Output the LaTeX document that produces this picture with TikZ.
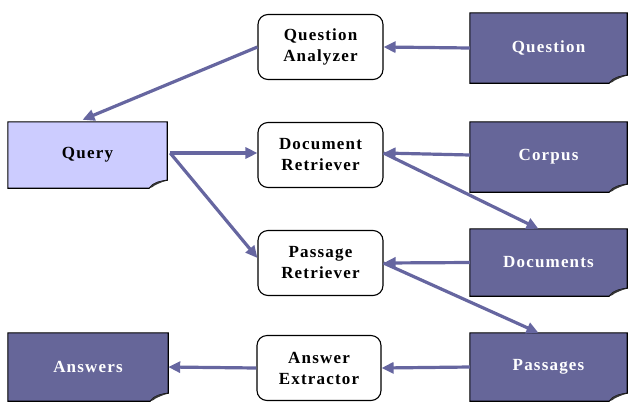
\documentclass[tikz,border=0pt]{standalone}
\usepackage{fontspec}
\setmainfont{Liberation Serif}[LetterSpace=7]
\usetikzlibrary{arrows.meta}
\definecolor{darkdoc}{RGB}{102,102,153}
\definecolor{lightdoc}{RGB}{204,204,255}
\definecolor{arrowc}{RGB}{102,102,160}
\newcommand{\docshape}[2]{%
  \filldraw[fill=#2,draw=black,line width=1.1pt]
    (#1.north west) -- (#1.north east) -- ([yshift=8pt]#1.south east)
    .. controls ([xshift=-6pt,yshift=7pt]#1.south east) and ([xshift=-14pt,yshift=6pt]#1.south east) .. ([xshift=-18pt]#1.south east)
    -- (#1.south west) -- cycle;
  \fill[black!80]
    ([xshift=-18pt]#1.south east)
    .. controls ([xshift=-15pt,yshift=6pt]#1.south east) and ([xshift=-8pt,yshift=7pt]#1.south east) .. ([yshift=8pt]#1.south east)
    .. controls ([xshift=-8pt,yshift=5pt]#1.south east) and ([xshift=-13pt,yshift=3pt]#1.south east) .. ([xshift=-15pt,yshift=1pt]#1.south east)
    -- cycle;
}
\begin{document}
\begin{tikzpicture}[x=1pt,y=-1pt,
  lbl/.style={font=\fontsize{17}{21}\selectfont\bfseries},
  proc/.style={lbl,draw=black,line width=1.1pt,rounded corners=10pt,fill=white,
    minimum width=125pt,minimum height=65pt,align=center,inner sep=0pt},
  docnode/.style={lbl,inner sep=0pt,align=center},
  conn/.style={draw=arrowc,line width=3.2pt,-{Triangle[length=12pt,width=11pt]}}]
\useasboundingbox (0,0) rectangle (628,402);

% document-shaped nodes (text only; outline drawn by \docshape)
\node[docnode,minimum width=157pt,minimum height=70pt] (question) at (548.5,48) {};
\node[docnode,minimum width=159pt,minimum height=66pt] (query) at (87.5,155) {};
\node[docnode,minimum width=157pt,minimum height=70pt] (corpus) at (548.5,157) {};
\node[docnode,minimum width=157pt,minimum height=67pt] (documents) at (548.5,262.5) {};
\node[docnode,minimum width=157pt,minimum height=68pt] (passages) at (548.5,367) {};
\node[docnode,minimum width=160pt,minimum height=68pt] (answers) at (88,367) {};

\docshape{question}{darkdoc}
\docshape{query}{lightdoc}
\docshape{corpus}{darkdoc}
\docshape{documents}{darkdoc}
\docshape{passages}{darkdoc}
\docshape{answers}{darkdoc}

\node[lbl,text=white] at (question) {Question};
\node[lbl] at (query) {Query};
\node[lbl,text=white] at (corpus) {Corpus};
\node[lbl,text=white] at (documents) {Documents};
\node[lbl,text=white] at (passages) {Passages};
\node[lbl,text=white] at (answers) {Answers};

% process nodes
\node[proc] (qa) at (320.5,47) {Question\\Analyzer};
\node[proc] (dr) at (320.5,155) {Document\\Retriever};
\node[proc] (pr) at (320.5,263) {Passage\\Retriever};
\node[proc,minimum width=124pt] (ae) at (319,368) {Answer\\Extractor};

% connectors
\draw[conn] (question.west) -- (qa.east);
\draw[conn] (qa.west) -- ([xshift=-5pt,yshift=2pt]query.north);
\draw[conn] ([xshift=3pt,yshift=2pt]query.east) -- ([yshift=2pt]dr.west);
\draw[conn] ([xshift=3pt,yshift=2pt]query.east) -- ([yshift=5pt]pr.west);
\draw[conn] ([yshift=2pt]corpus.west) -- ([yshift=2pt]dr.east);
\draw[conn] ([yshift=2pt]dr.east) -- ([xshift=-10pt]documents.north);
\draw[conn] (documents.west) -- (pr.east);
\draw[conn] (pr.east) -- ([xshift=-10pt]passages.north);
\draw[conn] (passages.west) -- (ae.east);
\draw[conn] (ae.west) -- (answers.east);
\end{tikzpicture}
\end{document}
